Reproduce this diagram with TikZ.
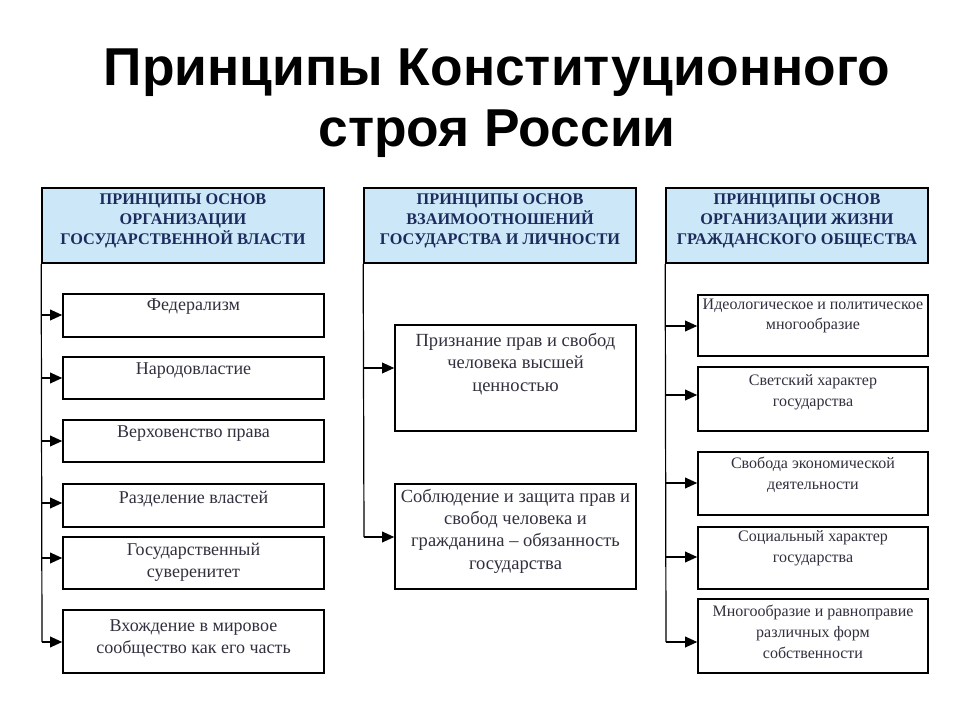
\documentclass[tikz,border=0pt]{standalone}
\usepackage{fontspec}
\setmainfont{Liberation Serif}
\newfontfamily\titlefont{Liberation Sans}
\usetikzlibrary{arrows.meta,fit}
\definecolor{hdrfill}{HTML}{CCE8F8}
\definecolor{navy}{HTML}{1C2B5C}
\definecolor{boxtext}{HTML}{30303F}
\begin{document}
\begin{tikzpicture}[x=0.75pt,y=-0.75pt,
  hdrbox/.style={draw=black,line width=1.2pt,fill=hdrfill,inner sep=0pt},
  itembox/.style={draw=black,line width=1.2pt,fill=white,inner sep=0pt},
  hdrtext/.style={inner sep=0pt,align=center,text=navy,font=\bfseries\fontsize{12.2}{15}\selectfont},
  txtA/.style={inner sep=0pt,align=center,text=boxtext,font=\fontsize{13.5}{16.5}\selectfont},
  txtB/.style={inner sep=0pt,align=center,text=boxtext,font=\fontsize{13.9}{16.8}\selectfont},
  txtC/.style={inner sep=0pt,align=center,text=boxtext,font=\fontsize{12}{15.5}\selectfont},
  trunk/.style={draw=black,line width=0.9pt},
  arr/.style={draw=black,line width=1pt,-{Triangle[length=9pt,width=8pt]}},
  titletext/.style={inner sep=0pt,font=\titlefont\bfseries\fontsize{40}{48}\selectfont}
]
\fill[white] (0,0) rectangle (960,720);
\useasboundingbox (0,0) rectangle (960,720);

% title
\node[titletext,anchor=base] (title1) at (497,86) {Принципы Конституционного};
\node[titletext,anchor=base] (title2) at (497,147) {строя России};

% ---------- column 1 ----------
\node[hdrbox,fit={(42,188) (324,263)}] (h1) {};
\node[hdrtext] (h1t) at (h1.center |- 0,221) {ПРИНЦИПЫ ОСНОВ\\ОРГАНИЗАЦИИ\\ГОСУДАРСТВЕННОЙ ВЛАСТИ};

\node[itembox,fit={(63,294) (324,337)}] (a1) {};
\node[itembox,fit={(63,357) (324,399)}] (a2) {};
\node[itembox,fit={(63,420) (324,462)}] (a3) {};
\node[itembox,fit={(63,484) (324,527)}] (a4) {};
\node[itembox,fit={(63,537) (324,589)}] (a5) {};
\node[itembox,fit={(63,610) (324,673)}] (a6) {};

\node[txtA] (a1t) at (a1.center |- 0,307) {Федерализм};
\node[txtA] (a2t) at (a2.center |- 0,371) {Народовластие};
\node[txtA] (a3t) at (a3.center |- 0,434) {Верховенство права};
\node[txtA] (a4t) at (a4.center |- 0,499) {Разделение властей};
\node[txtA] (a5t) at (a5.center |- 0,562) {Государственный\\суверенитет};
\node[txtA] (a6t) at (a6.center |- 0,638) {Вхождение в мировое\\сообщество как его часть};

\coordinate (c1end) at (42,642);
\draw[trunk] (h1.south west) -- (c1end);
\coordinate (p11) at (42,315);
\coordinate (p12) at (42,378);
\coordinate (p13) at (42,441);
\coordinate (p14) at (42,503);
\coordinate (p15) at (42,558);
\draw[arr] (p11) -- (p11 -| a1.west);
\draw[arr] (p12) -- (p12 -| a2.west);
\draw[arr] (p13) -- (p13 -| a3.west);
\draw[arr] (p14) -- (p14 -| a4.west);
\draw[arr] (p15) -- (p15 -| a5.west);
\draw[arr] (c1end) -- (c1end -| a6.west);

% ---------- column 2 ----------
\node[hdrbox,fit={(364,188) (636,263)}] (h2) {};
\node[hdrtext] (h2t) at (h2.center |- 0,221) {ПРИНЦИПЫ ОСНОВ\\ВЗАИМООТНОШЕНИЙ\\ГОСУДАРСТВА И ЛИЧНОСТИ};

\node[itembox,fit={(395,325) (636,431)}] (b1) {};
\node[itembox,fit={(395,484) (636,589)}] (b2) {};
\node[txtB] (b1t) at (b1.center |- 0,364) {Признание прав и свобод\\человека высшей\\ценностью};
\node[txtB] (b2t) at (b2.center |- 0,531) {Соблюдение и защита прав и\\свобод человека и\\гражданина – обязанность\\государства};

\coordinate (c2end) at (364,537);
\draw[trunk] (h2.south west) -- (c2end);
\coordinate (p21) at (364,368);
\draw[arr] (p21) -- (p21 -| b1.west);
\draw[arr] (c2end) -- (c2end -| b2.west);

% ---------- column 3 ----------
\node[hdrbox,fit={(666,188) (928,263)}] (h3) {};
\node[hdrtext] (h3t) at (h3.center |- 0,221) {ПРИНЦИПЫ ОСНОВ\\ОРГАНИЗАЦИИ ЖИЗНИ\\ГРАЖДАНСКОГО ОБЩЕСТВА};

\node[itembox,fit={(698,295) (928,356)}] (d1) {};
\node[itembox,fit={(698,367) (928,431)}] (d2) {};
\node[itembox,fit={(698,452) (928,515)}] (d3) {};
\node[itembox,fit={(698,527) (928,589)}] (d4) {};
\node[itembox,fit={(698,599) (928,673)}] (d5) {};

\node[txtC] (d1t) at (d1.center |- 0,316) {Идеологическое и политическое\\многообразие};
\node[txtC] (d2t) at (d2.center |- 0,392) {Светский характер\\государства};
\node[txtC] (d3t) at (d3.center |- 0,475) {Свобода экономической\\деятельности};
\node[txtC] (d4t) at (d4.center |- 0,548) {Социальный характер\\государства};
\node[txtC] (d5t) at (d5.center |- 0,632) {Многообразие и равноправие\\различных форм\\собственности};

\coordinate (c3end) at (666,642);
\draw[trunk] (h3.south west) -- (c3end);
\coordinate (p31) at (666,326);
\coordinate (p32) at (666,395);
\coordinate (p33) at (666,483);
\coordinate (p34) at (666,557);
\draw[arr] (p31) -- (p31 -| d1.west);
\draw[arr] (p32) -- (p32 -| d2.west);
\draw[arr] (p33) -- (p33 -| d3.west);
\draw[arr] (p34) -- (p34 -| d4.west);
\draw[arr] (c3end) -- (c3end -| d5.west);
\end{tikzpicture}
\end{document}
